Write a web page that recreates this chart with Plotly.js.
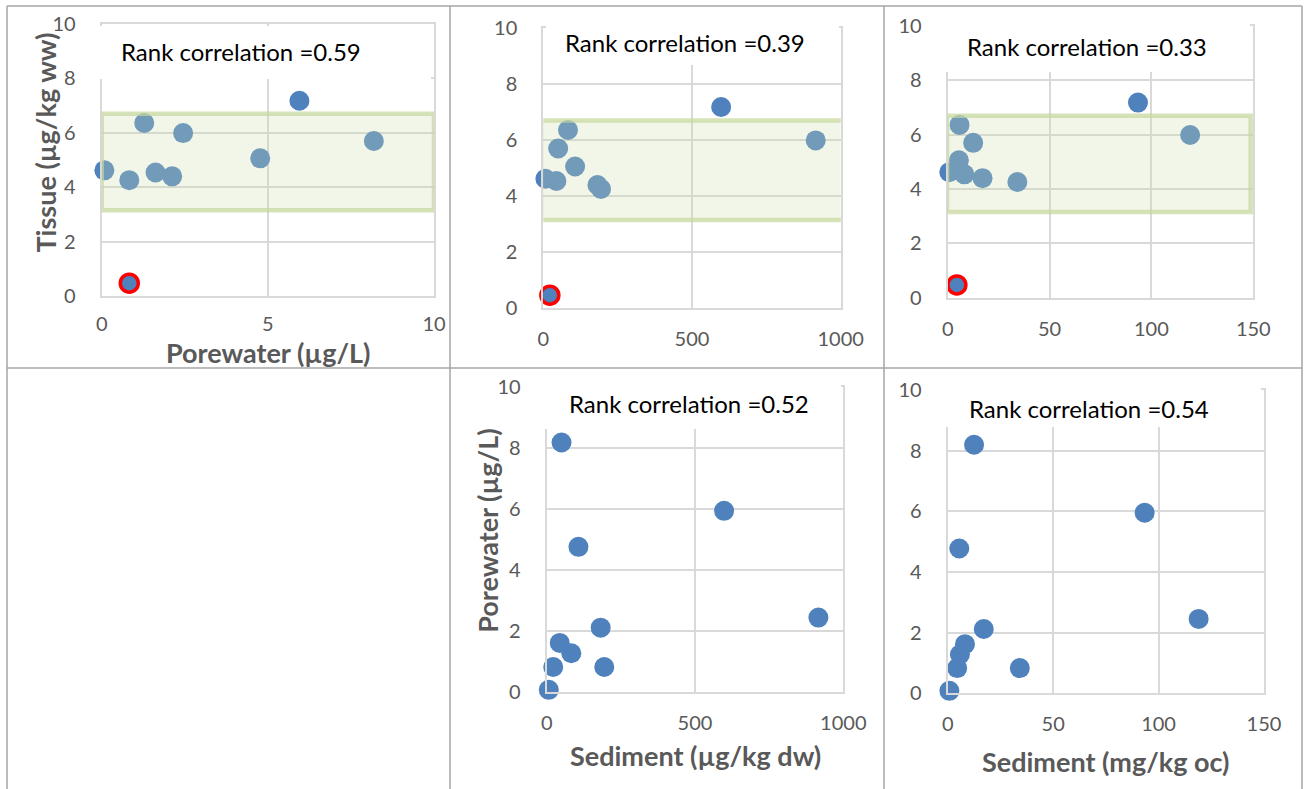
<!DOCTYPE html>
<html>
<head>
<meta charset="utf-8">
<script src="https://cdn.plot.ly/plotly-3.0.1.min.js"></script>
<style>html,body{margin:0;padding:0;background:#fff;}#chart{width:1305px;height:789px;}</style>
</head>
<body>
<div id="chart"></div>
<script>
// ---- Data (10 sites) ----
const porewater   = [0.08, 0.83, 1.28, 1.62, 2.12, 2.45, 4.77, 5.95, 8.19, 0.83];   // µg/L
const tissue      = [4.62, 4.26, 6.36, 4.54, 4.40, 5.99, 5.06, 7.18, 5.70, 0.47];   // µg/kg ww
const sedimentDW  = [7, 194, 83, 44, 182, 916, 107, 598, 50, 22];                   // µg/kg dw
const sedimentOC  = [0.8, 34.2, 5.8, 8.2, 17.1, 119, 5.5, 93.4, 12.5, 4.5];         // mg/kg oc
const flagged     = [false, false, false, false, false, false, false, false, false, true];
const rankCorr    = ["0.59", "0.39", "0.33", "0.52", "0.54"];
const xTitles     = ["Porewater (µg/L)", "", "", "Sediment (µg/kg dw)", "Sediment (mg/kg oc)"];
const yTitles     = ["Tissue (µg/kg ww)", "", "", "Porewater (µg/L)", ""];
const yTicks      = [0, 2, 4, 6, 8, 10];
const tissueBand  = [3.15, 6.7];   // shaded reference band on tissue panels

// ---- Layout helpers ----
const W = 1305, H = 789;
const fx = p => p / W;
const fy = p => 1 - p / H;
const BLUE = '#4f81bd', GREY = '#595959', FONT = 'Lato, "Open Sans", sans-serif';
const GRID = '#d9d9d9';

// panel geometry in pixels: [left, right, top, bottom]
const panels = [
  {x: porewater,  y: tissue,    px: [101.7, 434.0, 24.0, 296.0], xr: [0, 10],   xd: 5,   band: [0, 10],   flag: true,  so: 9},
  {x: sedimentDW, y: tissue,    px: [543.3, 840.7, 28.0, 308.3], xr: [0, 1000], xd: 500, band: [-7, 1013], flag: true, so: 12},
  {x: sedimentOC, y: tissue,    px: [947.7, 1253.3, 26.0, 297.7], xr: [0, 150], xd: 50,  band: [-0.3, 148.7], flag: true, so: 12},
  {x: sedimentDW, y: porewater, px: [546.7, 843.3, 387.3, 692.3], xr: [0, 1000], xd: 500, band: null, flag: false, so: 12},
  {x: sedimentOC, y: porewater, px: [947.7, 1264.0, 389.8, 693.3], xr: [0, 150], xd: 50, band: null, flag: false, so: 12}
];
// white text-box areas covering top of each plot [x0,x1,y0,y1] px
const covers = [[95, 431, 26, 79], [546, 839, 20, 65], [940, 1250, 18, 72], [540, 841, 380, 429], [940, 1261, 380, 427]];
// annotation positions [x(left), y(center)] px
const rcPos = [[119, 51.7], [563.3, 42.3], [965, 46.7], [566.7, 403.3], [966.7, 408.3]];
const xtPos = [[268, 352], null, null, [695, 755], [1105.5, 761.7]];
const ytPos = [[45, 142.5], null, null, [488, 530.8], null];

const data = [], shapes = [], annotations = [];
const layout = {
  width: W, height: H, margin: {l: 0, r: 0, t: 0, b: 0},
  paper_bgcolor: '#fff', plot_bgcolor: 'rgba(0,0,0,0)', showlegend: false,
  font: {family: FONT, color: GREY}
};

panels.forEach((p, i) => {
  const n = i + 1, xa = 'x' + (n === 1 ? '' : n), ya = 'y' + (n === 1 ? '' : n);
  const xk = 'xaxis' + (n === 1 ? '' : n), yk = 'yaxis' + (n === 1 ? '' : n);
  const common = {
    showgrid: true, gridcolor: GRID, gridwidth: 2,
    zeroline: false, showline: true, mirror: true, linecolor: GRID, linewidth: 2,
    ticks: '', tickfont: {family: FONT, size: 20, color: GREY}, fixedrange: true
  };
  layout[xk] = Object.assign({}, common, {
    domain: [fx(p.px[0]), fx(p.px[1])], range: p.xr, dtick: p.xd, tick0: 0,
    anchor: ya, ticklabelstandoff: p.so
  });
  layout[yk] = Object.assign({}, common, {
    domain: [fy(p.px[3]), fy(p.px[2])], range: [0, 10], tickvals: yTicks,
    anchor: xa, ticklabelstandoff: 20
  });
  const idxMain = p.x.map((_, k) => k).filter(k => !(p.flag && flagged[k]));
  data.push({
    type: 'scatter', mode: 'markers', xaxis: xa, yaxis: ya, cliponaxis: false,
    x: idxMain.map(k => p.x[k]), y: idxMain.map(k => p.y[k]),
    marker: {color: BLUE, size: 20, line: {width: 0}}, hoverinfo: 'x+y'
  });
  if (p.flag) {
    const idxF = p.x.map((_, k) => k).filter(k => flagged[k]);
    data.push({
      type: 'scatter', mode: 'markers', xaxis: xa, yaxis: ya, cliponaxis: false,
      x: idxF.map(k => p.x[k]), y: idxF.map(k => p.y[k]),
      marker: {color: BLUE, size: 18, line: {width: 3.5, color: '#ff0000'}}, hoverinfo: 'x+y'
    });
  }
  if (p.band) {
    shapes.push({type: 'rect', xref: xa, yref: ya, layer: 'above',
      x0: p.band[0], x1: p.band[1], y0: tissueBand[0], y1: tissueBand[1],
      fillcolor: 'rgba(205,221,175,0.28)', line: {color: 'rgba(196,215,155,0.7)', width: 4.5}});
  }
  const c = covers[i];
  shapes.push({type: 'rect', xref: 'paper', yref: 'paper', layer: 'above',
    x0: fx(c[0]), x1: fx(c[1]), y0: fy(c[3]), y1: fy(c[2]), fillcolor: '#fff', line: {width: 0}});
  annotations.push({xref: 'paper', yref: 'paper', x: fx(rcPos[i][0]), y: fy(rcPos[i][1]),
    xanchor: 'left', yanchor: 'middle', showarrow: false,
    text: 'Rank correlation =' + rankCorr[i], font: {family: FONT, size: 24, color: '#000'}});
  if (xTitles[i]) annotations.push({xref: 'paper', yref: 'paper', x: fx(xtPos[i][0]), y: fy(xtPos[i][1]),
    xanchor: 'center', yanchor: 'middle', showarrow: false, text: xTitles[i],
    font: {family: FONT, size: 27, color: GREY, weight: 'bold'}});
  if (yTitles[i]) annotations.push({xref: 'paper', yref: 'paper', x: fx(ytPos[i][0]), y: fy(ytPos[i][1]),
    xanchor: 'center', yanchor: 'middle', showarrow: false, textangle: -90, text: yTitles[i],
    font: {family: FONT, size: 27, color: GREY, weight: 'bold'}});
});

// table borders
const border = {color: '#a6a6a6', width: 1.5};
[[7, 6, 1302, 6], [7, 368, 1302, 368], [7, 6, 7, 789], [450, 6, 450, 789], [884, 6, 884, 789], [1302, 6, 1302, 789]]
  .forEach(l => shapes.push({type: 'line', xref: 'paper', yref: 'paper', layer: 'above',
    x0: fx(l[0]), y0: fy(l[1]), x1: fx(l[2]), y1: fy(l[3]), line: border}));

layout.shapes = shapes;
layout.annotations = annotations;
Plotly.newPlot('chart', data, layout, {displayModeBar: false, staticPlot: true});
</script>
</body>
</html>
